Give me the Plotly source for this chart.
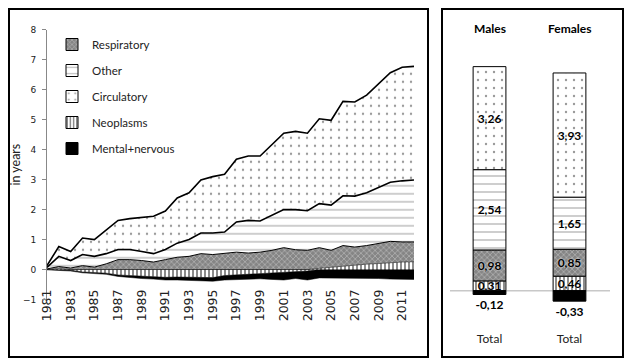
import plotly.graph_objects as go

# ---------------- data ----------------
years = list(range(1981, 2013))
year_ticks = list(range(1981, 2013, 2))

circulatory = [0.06, 0.33, 0.30, 0.55, 0.56, 0.78, 0.97, 1.03, 1.15, 1.25, 1.28, 1.51, 1.56, 1.77, 1.88, 1.93,
               2.09, 2.15, 2.17, 2.37, 2.55, 2.61, 2.59, 2.83, 2.83, 3.15, 3.14, 3.26, 3.47, 3.66, 3.79, 3.79]
other = [0.05, 0.34, 0.25, 0.37, 0.36, 0.34, 0.34, 0.34, 0.30, 0.28, 0.34, 0.47, 0.56, 0.69, 0.72, 0.72,
         1.01, 1.09, 1.04, 1.17, 1.27, 1.34, 1.32, 1.47, 1.51, 1.66, 1.70, 1.76, 1.87, 1.97, 2.04, 2.07]
respiratory = [0.02, 0.08, 0.05, 0.13, 0.08, 0.19, 0.33, 0.33, 0.30, 0.25, 0.33, 0.41, 0.44, 0.53, 0.50, 0.53,
               0.58, 0.55, 0.58, 0.64, 0.73, 0.66, 0.64, 0.69, 0.56, 0.70, 0.61, 0.62, 0.66, 0.71, 0.67, 0.66]
neoplasms = [0.00, 0.02, -0.02, -0.08, -0.10, -0.12, -0.18, -0.20, -0.22, -0.24, -0.26, -0.25, -0.26, -0.27, -0.27, -0.20,
             -0.18, -0.15, -0.14, -0.13, -0.10, -0.08, -0.05, 0.04, 0.08, 0.10, 0.14, 0.18, 0.20, 0.23, 0.25, 0.26]
mental_nervous = [-0.01, -0.02, -0.03, -0.03, -0.03, -0.04, -0.05, -0.07, -0.08, -0.08, -0.09, -0.10, -0.10, -0.11, -0.12, -0.15,
                  -0.16, -0.18, -0.17, -0.20, -0.25, -0.22, -0.30, -0.28, -0.28, -0.28, -0.28, -0.28, -0.30, -0.32, -0.33, -0.33]

sexes = ["Males", "Females"]
total_labels = ["Total", "Total"]
bar_neoplasms = [0.31, 0.46]
bar_respiratory = [0.98, 0.85]
bar_other = [2.54, 1.65]
bar_circulatory = [3.26, 3.93]
bar_mental = [-0.12, -0.33]

names = {"resp": "Respiratory", "oth": "Other", "circ": "Circulatory", "neo": "Neoplasms", "mn": "Mental+nervous"}

# ---------------- styles ----------------
OFF = 8  # page body margin of the browser
W, H = 633 - OFF, 364 - OFF
def px(x):
    return (x - OFF) / W
def py(y):
    return (H - (y - OFF)) / H

pat_circ = dict(shape=".", fgcolor="#333333", bgcolor="white", size=8, solidity=0.07)
pat_other = dict(shape="-", fgcolor="#777777", bgcolor="white", size=8, solidity=0.18)
pat_resp = dict(shape="x", fgcolor="#f0f0f0", bgcolor="#858585", size=4, solidity=0.3)
pat_neo = dict(shape="|", fgcolor="black", bgcolor="white", size=4, solidity=0.45)

fig = go.Figure()

neo_pos = [v if v > 0 else 0 for v in neoplasms]
neo_neg = [v if v < 0 else 0 for v in neoplasms]

# negative stack
fig.add_trace(go.Scatter(x=years, y=neo_neg, stackgroup="neg", mode="lines",
                         line=dict(color="black", width=0.5), fillpattern=pat_neo,
                         fillcolor="white", showlegend=False, hoverinfo="skip"))
fig.add_trace(go.Scatter(x=years, y=mental_nervous, stackgroup="neg", mode="lines",
                         line=dict(color="black", width=0.5), fillcolor="black",
                         showlegend=False, hoverinfo="skip"))
# positive stack
fig.add_trace(go.Scatter(x=years, y=neo_pos, stackgroup="pos", mode="lines",
                         line=dict(color="black", width=0.5), fillpattern=pat_neo,
                         fillcolor="white", showlegend=False, hoverinfo="skip"))
fig.add_trace(go.Scatter(x=years, y=respiratory, stackgroup="pos", mode="lines",
                         line=dict(color="black", width=1), fillpattern=pat_resp,
                         fillcolor="#858585", showlegend=False, hoverinfo="skip"))
fig.add_trace(go.Scatter(x=years, y=other, stackgroup="pos", mode="lines",
                         line=dict(color="black", width=1.6), fillpattern=pat_other,
                         fillcolor="white", showlegend=False, hoverinfo="skip"))
fig.add_trace(go.Scatter(x=years, y=circulatory, stackgroup="pos", mode="lines",
                         line=dict(color="black", width=1.6), fillpattern=pat_circ,
                         fillcolor="white", showlegend=False, hoverinfo="skip"))

# ---------------- bars (right panel) ----------------
lbl_font = dict(family="Lato", size=12, color="black", weight="bold",
                shadow="0px 0px 2px white")
def add_bar(vals, name, pattern, color, rank, textpos="inside"):
    fig.add_trace(go.Bar(
        x=sexes, y=vals, name=name, xaxis="x2", yaxis="y2", width=0.41,
        marker=dict(color=color, pattern=pattern, line=dict(color="black", width=1)),
        texttemplate="%{y:.2f}", textposition=textpos, insidetextanchor="middle",
        constraintext="none", textfont=lbl_font, cliponaxis=False,
        legendrank=rank, legendgroup=name, showlegend=True, hoverinfo="skip"))

add_bar(bar_neoplasms, names["neo"], pat_neo, "white", 4)
add_bar(bar_respiratory, names["resp"], pat_resp, "#858585", 1)
add_bar(bar_other, names["oth"], pat_other, "white", 2)
add_bar(bar_circulatory, names["circ"], pat_circ, "white", 3)
fig.add_trace(go.Bar(
    x=sexes, y=bar_mental, name=names["mn"], xaxis="x2", yaxis="y2", width=0.41,
    marker=dict(color="black", line=dict(color="black", width=1)),
    texttemplate="%{y:.2f}", textposition="outside", constraintext="none",
    textfont=lbl_font, cliponaxis=False,
    legendrank=5, legendgroup=names["mn"], showlegend=True, hoverinfo="skip"))

# ---------------- layout ----------------
tick_font = dict(family="DejaVu Sans", size=9, color="#222")
fig.update_layout(
    width=W, height=H,
    margin=dict(l=0, r=0, t=0, b=0, autoexpand=False),
    paper_bgcolor="white", plot_bgcolor="rgba(0,0,0,0)",
    separators=",.",
    barmode="relative",
    showlegend=True,
    legend=dict(x=px(52), y=py(30), xanchor="left", yanchor="top",
                font=dict(family="Lato", size=11.5, color="#222"),
                bgcolor="rgba(0,0,0,0)", borderwidth=0,
                traceorder="grouped", tracegroupgap=7, itemwidth=30),
    xaxis=dict(domain=[px(47), px(414)], range=[1981, 2012], automargin=False,
               anchor="free", position=py(286),
               tickmode="array", tickvals=year_ticks, ticktext=[str(t) for t in year_ticks],
               tickangle=-90, tickfont=dict(family="DejaVu Sans", size=12.5, color="#222"),
               showline=False, showgrid=False, zeroline=False, ticks=""),
    yaxis=dict(domain=[py(299.5), py(29.8)], range=[-1, 8], dtick=1, automargin=False,
               showline=True, linecolor="#888", linewidth=1,
               ticks="outside", ticklen=4, tickcolor="#888", ticklabelstandoff=4,
               tickfont=tick_font, showgrid=False,
               zeroline=True, zerolinecolor="black", zerolinewidth=1,
               title=dict(text="in years", font=dict(family="Lato", size=12.5, color="#222"),
                          standoff=2)),
    xaxis2=dict(domain=[px(442), px(623)], anchor="y2", type="category", automargin=False,
                range=[-0.594, 1.669], tickmode="array", tickvals=sexes, ticktext=total_labels,
                tickfont=dict(family="Lato", size=12, color="#222"),
                showline=False, showgrid=False, zeroline=False, ticks=""),
    yaxis2=dict(domain=[py(330), py(20)], range=[-1.2437, 8.566], anchor="x2", automargin=False,
                visible=False, showgrid=False, zeroline=False),
)

# zero line in right panel
fig.add_shape(type="line", xref="paper", yref="y2", x0=px(450), x1=px(610), y0=0, y1=0,
              line=dict(color="#c8c8c8", width=1.5), layer="below")
# frames (kept just inside the drawable page area)
fig.add_shape(type="rect", xref="paper", yref="paper", x0=px(9), x1=px(428), y0=py(357), y1=py(9),
              line=dict(color="black", width=2))
fig.add_shape(type="rect", xref="paper", yref="paper", x0=px(442), x1=px(623), y0=py(357), y1=py(9),
              line=dict(color="black", width=2))

for s in sexes:
    fig.add_annotation(x=s, xref="x2", y=py(28), yref="paper", yanchor="middle",
                       text=s, showarrow=False,
                       font=dict(family="Lato", size=12, color="black", weight="bold"))

fig.write_html("out.html")
